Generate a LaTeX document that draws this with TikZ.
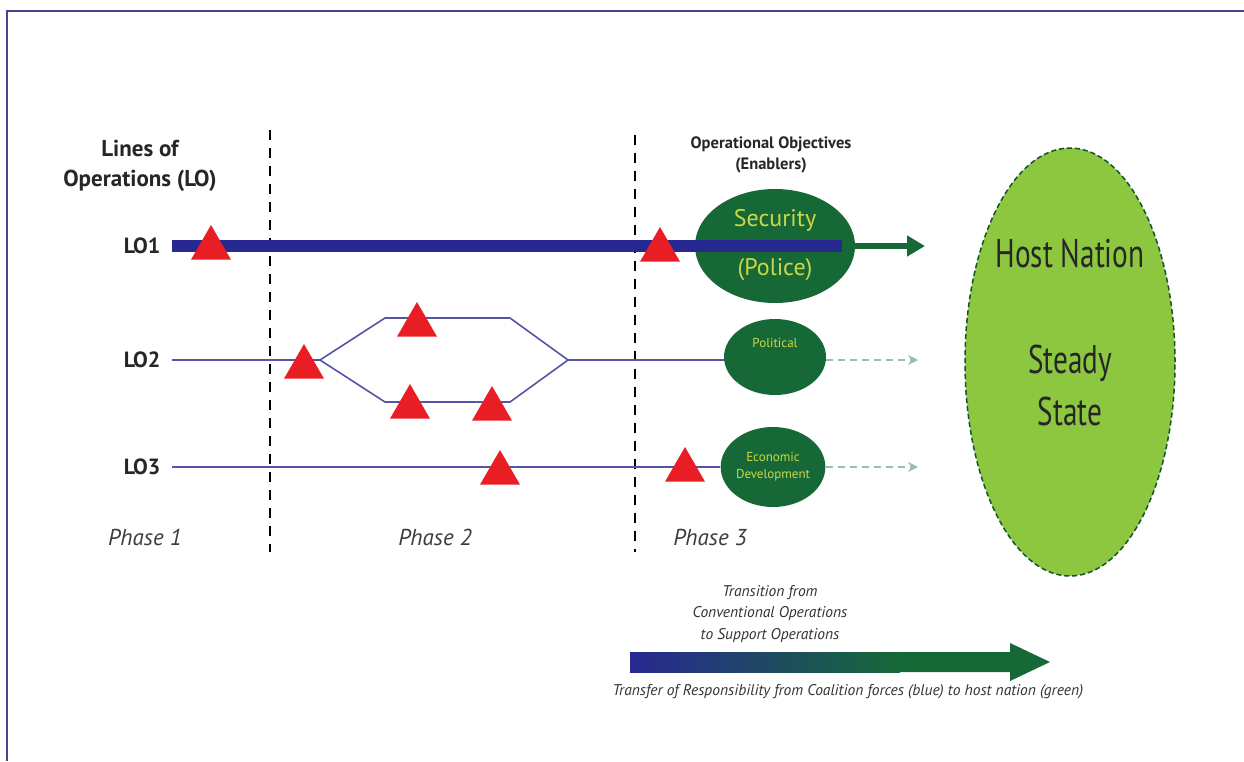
\documentclass[tikz,border=0pt]{standalone}
\usepackage{fontspec}
\setmainfont{PT Sans}
\usetikzlibrary{shapes.geometric,arrows.meta}
\definecolor{frameblue}{RGB}{70,70,140}
\definecolor{loblue}{RGB}{40,40,145}
\definecolor{thinblue}{RGB}{85,85,165}
\definecolor{dkgreen}{RGB}{22,105,55}
\definecolor{yeltext}{RGB}{205,215,70}
\definecolor{hostgreen}{RGB}{141,198,63}
\definecolor{trired}{RGB}{232,30,36}
\definecolor{dashgreen}{RGB}{150,192,172}
\definecolor{phasegray}{RGB}{60,60,60}
\tikzset{
  tri/.style={regular polygon, regular polygon sides=3, fill=trired, minimum size=46pt, inner sep=0pt},
  obj/.style={ellipse, fill=dkgreen, inner sep=0pt, text=yeltext, align=center},
  lolabel/.style={font=\bfseries\fontsize{22}{24}\selectfont, text=black!85},
  phaselabel/.style={font=\itshape\fontsize{23}{26}\selectfont, text=phasegray},
  smallit/.style={font=\itshape\fontsize{15.5}{21.5}\selectfont, text=black!80, align=center},
  thinline/.style={draw=thinblue, line width=1.6pt},
  phasesep/.style={draw=black, line width=1.4pt, dash pattern=on 10pt off 8pt},
  fadearrow/.style={draw=dashgreen, line width=1.6pt, dash pattern=on 7pt off 5pt, -{Stealth[length=10pt,width=10pt]}}
}
\begin{document}
\begin{tikzpicture}[x=1pt,y=-1pt]
\useasboundingbox (0,0) rectangle (1244,761);
\fill[white] (0,0) rectangle (1244,761);
% frame
\draw[frameblue, line width=2pt] (7,761) -- (7,11) -- (1244,11);

% header
\node[font=\bfseries\fontsize{23}{30}\selectfont, text=black!85, align=center] (hdr) at (140,166) {Lines of\\Operations (LO)};
\node[font=\bfseries\fontsize{16.5}{21}\selectfont, align=center, text=black!85] (objhdr) at (771,155) {Operational Objectives\\(Enablers)};

% phase separators
\coordinate (s1t) at (270,130); \coordinate (s1b) at (270,552);
\coordinate (s2t) at (635,135); \coordinate (s2b) at (635,552);
\draw[phasesep] (s1t) -- (s1b);
\draw[phasesep] (s2t) -- (s2b);

% LO labels
\node[lolabel] (lo1) at (142,246) {LO1};
\node[lolabel] (lo2) at (142,360) {LO2};
\node[lolabel] (lo3) at (142,467) {LO3};

% objectives ellipses
\node[obj, minimum width=160pt, minimum height=114pt] (sec) at (775,246) {};
\node[text=yeltext, font=\fontsize{24}{28}\selectfont] (sect) at (775,220) {Security};
\node[text=yeltext, font=\fontsize{24}{28}\selectfont] (polt) at (775,270) {(Police)};
\node[obj, minimum width=102pt, minimum height=76pt, font=\fontsize{13}{15}\selectfont] (pol) at (775,357) {Political\\[14pt]};
\node[obj, minimum width=100pt, minimum height=80pt, font=\fontsize{13}{17}\selectfont] (eco) at (773,467) {Economic\\Development};

% LO1 thick bar
\coordinate (lo1s) at (172,246);
\coordinate (lo1e) at (842,246);
\coordinate (lo1a) at (925,246);
\draw[dkgreen, line width=6pt, -{Triangle[length=18pt,width=20pt]}] (lo1e) -- (lo1a);
\draw[loblue, line width=12pt] (lo1s) -- (lo1e);

% LO2
\coordinate (lo2s) at (172,360);
\coordinate (bs) at (320,360);
\coordinate (u1) at (385,318); \coordinate (u2) at (510,318);
\coordinate (d1) at (385,402); \coordinate (d2) at (510,402);
\coordinate (be) at (568,360);
\draw[thinline] (lo2s) -- (bs) -- (u1) -- (u2) -- (be) -- (pol.west |- be);
\draw[thinline] (bs) -- (d1) -- (d2) -- (be);
\coordinate (pa) at (918,360);
\draw[fadearrow] (pol.east |- pa) -- (pa);

% LO3
\coordinate (lo3s) at (172,467);
\draw[thinline] (lo3s) -- (eco.west);
\coordinate (ea) at (918,467);
\draw[fadearrow] (eco.east) -- (ea);

% triangles
\node[tri] (t1) at (211,248) {};
\node[tri] (t2) at (660,250) {};
\node[tri] (t3) at (304,367) {};
\node[tri] (t4) at (417,325) {};
\node[tri] (t5) at (410,407) {};
\node[tri] (t6) at (492,409) {};
\node[tri] (t7) at (500,473) {};
\node[tri] (t8) at (685,470) {};

% host nation
\node[ellipse, fill=hostgreen, draw=dkgreen!80!black, line width=1.5pt, dash pattern=on 5pt off 3pt, minimum width=210pt, minimum height=428pt] (host) at (1070,362) {};
\node[font=\fontsize{40}{44}\selectfont, text=black!85] (hn) at (1070,254) {\scalebox{0.73}[1]{Host Nation}};
\node[font=\fontsize{40}{52}\selectfont, text=black!85, align=center] (ss) at (1070,385) {\scalebox{0.73}[1]{Steady}\\\scalebox{0.73}[1]{State}};

% phases
\node[phaselabel] (p1) at (145,537) {Phase 1};
\node[phaselabel] (p2) at (435,537) {Phase 2};
\node[phaselabel] (p3) at (710,537) {Phase 3};

% transition
\node[smallit] (trans) at (770,614) {Transition from\\Conventional Operations\\to Support Operations};
\coordinate (ga) at (630,652); \coordinate (gb) at (900,672);
\shade[left color=loblue, right color=dkgreen] (ga) rectangle (gb);
\fill[dkgreen] (899,652) -- (1010,652) -- (1010,643) -- (1050,662) -- (1010,681) -- (1010,672) -- (899,672) -- cycle;
\node[smallit] (transfer) at (848,692) {Transfer of Responsibility from Coalition forces (blue) to host nation (green)};
\end{tikzpicture}
\end{document}
